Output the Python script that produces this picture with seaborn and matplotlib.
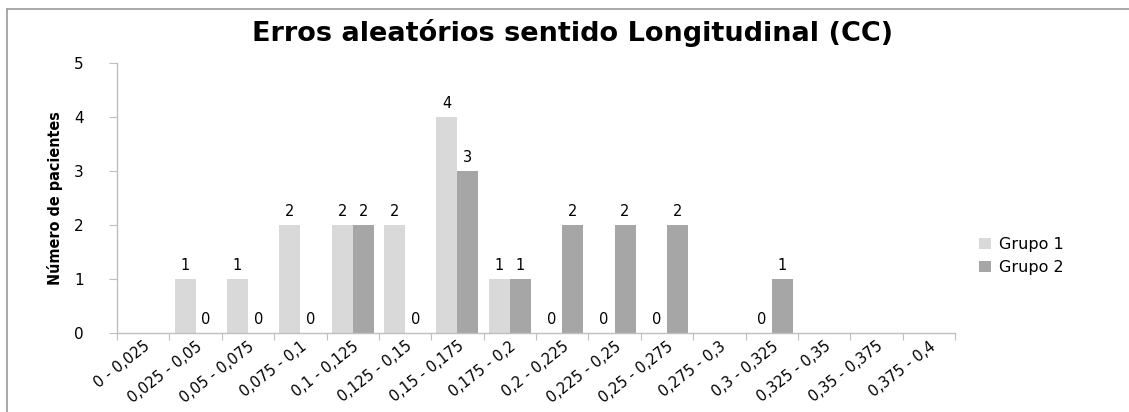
import matplotlib
matplotlib.use('Agg')
import matplotlib.pyplot as plt
from matplotlib.lines import Line2D
from matplotlib.ticker import FixedLocator
import seaborn as sns
import pandas as pd
import numpy as np

# dados
categorias = ['0 - 0,025', '0,025 - 0,05', '0,05 - 0,075', '0,075 - 0,1',
              '0,1 - 0,125', '0,125 - 0,15', '0,15 - 0,175', '0,175 - 0,2',
              '0,2 - 0,225', '0,225 - 0,25', '0,25 - 0,275', '0,275 - 0,3',
              '0,3 - 0,325', '0,325 - 0,35', '0,35 - 0,375', '0,375 - 0,4']
grupo1 = [np.nan, 1, 1, 2, 2, 2, 4, 1, 0, 0, 0, np.nan, 0, np.nan, np.nan, np.nan]
grupo2 = [np.nan, 0, 0, 0, 2, 0, 3, 1, 2, 2, 2, np.nan, 1, np.nan, np.nan, np.nan]
series = ['Grupo 1', 'Grupo 2']
cores = ['#d9d9d9', '#a6a6a6']

df = pd.DataFrame({
    'Intervalo': categorias * 2,
    'Grupo': [series[0]] * len(categorias) + [series[1]] * len(categorias),
    'Valor': grupo1 + grupo2,
}).dropna()

sns.set_style('white')
plt.rcParams['font.family'] = ['DejaVu Sans']
plt.rcParams['text.color'] = 'black'
plt.rcParams['xtick.color'] = 'black'
plt.rcParams['ytick.color'] = 'black'

fig = plt.figure(figsize=(11.29, 4.12), dpi=100)
ax = fig.add_axes([117 / 1129, 1 - 333 / 412, (955 - 117) / 1129, 270 / 412])

sns.barplot(data=df, x='Intervalo', y='Valor', hue='Grupo', order=categorias,
            hue_order=series, palette=cores, width=0.8, ax=ax,
            saturation=1, linewidth=0, errorbar=None)

# rótulos de valor (só onde há dado)
for cont in ax.containers:
    for bar in cont:
        if bar is None:
            continue
        h = bar.get_height()
        if np.isnan(h):
            continue
        ax.annotate(f'{int(h)}', (bar.get_x() + bar.get_width() / 2, h),
                    xytext=(0, 4), textcoords='offset points',
                    ha='center', va='bottom', fontsize=10.5, color='black')

ax.set_ylim(0, 5)
ax.set_xlim(-0.5, len(categorias) - 0.5)
ax.set_yticks(range(0, 6))
ax.tick_params(axis='y', length=6, width=0.8, color='#bfbfbf', labelsize=11,
               pad=18, left=True, labelcolor='black')
ax.set_xticks(range(len(categorias)))
ax.set_xticklabels(categorias, rotation=38, ha='right', rotation_mode='anchor',
                   fontsize=10.5)
ax.tick_params(axis='x', length=0, pad=4, labelcolor='black')
ax.xaxis.set_minor_locator(FixedLocator(np.arange(-0.5, len(categorias), 1)))
ax.tick_params(axis='x', which='minor', length=5, width=0.8, color='#bfbfbf',
               bottom=True)

for s in ['top', 'right']:
    ax.spines[s].set_visible(False)
for s in ['left', 'bottom']:
    ax.spines[s].set_color('#bfbfbf')
    ax.spines[s].set_linewidth(1.0)

ax.set_xlabel('')
ax.set_ylabel('Número de pacientes', fontsize=11.5, fontweight='bold',
              fontstretch='condensed', color='black',
              family=['Liberation Sans Narrow', 'DejaVu Sans'], labelpad=8)

fig.text(573 / 1129, 1 - 33 / 412, 'Erros aleatórios sentido Longitudinal (CC)',
         ha='center', va='center', fontsize=19.5, fontweight='bold', color='black')

ax.legend(loc='center left', bbox_to_anchor=(965 / 1129, 1 - 256 / 412),
          bbox_transform=fig.transFigure, frameon=False, fontsize=11.5,
          handlelength=0.7, handleheight=0.7, handletextpad=0.5,
          labelspacing=0.5)

# moldura do gráfico
fig.add_artist(Line2D([7 / 1129, 7 / 1129], [0, 1 - 9 / 412],
                      transform=fig.transFigure, color='#999999', lw=1.2))
fig.add_artist(Line2D([7 / 1129, 1], [1 - 9 / 412, 1 - 9 / 412],
                      transform=fig.transFigure, color='#999999', lw=1.2))

plt.savefig('out.png', dpi=100)
